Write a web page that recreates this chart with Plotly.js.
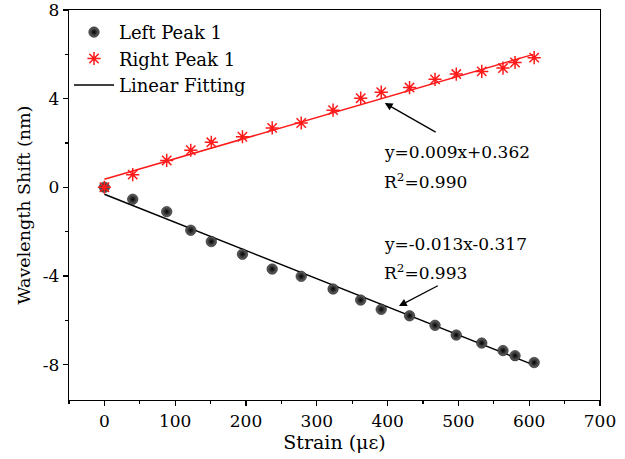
<!DOCTYPE html>
<html>
<head>
<meta charset="utf-8">
<script src="https://cdn.plot.ly/plotly-3.0.1.min.js"></script>
<style>html,body{margin:0;padding:0;background:#fff;}#chart{width:625px;height:459px;}</style>
</head>
<body>
<div id="chart"></div>
<script>
// Strain values (με)
const strain = [0, 40, 88, 122, 151, 195, 237, 278, 323, 362, 391, 431, 467, 497, 533, 563, 580, 607];
// Wavelength shift (nm)
const leftPeak = [0, -0.54, -1.10, -1.94, -2.45, -3.02, -3.69, -4.02, -4.59, -5.09, -5.51, -5.80, -6.23, -6.67, -7.03, -7.37, -7.60, -7.91];
const rightPeak = [0, 0.57, 1.21, 1.67, 2.03, 2.28, 2.68, 2.90, 3.48, 4.02, 4.29, 4.50, 4.87, 5.11, 5.23, 5.38, 5.63, 5.85];
// Linear fit coefficients (slope, intercept) and fit range
const leftFit = [-0.0127, -0.317];
const rightFit = [0.0093, 0.362];
const fitRange = [0, 606];
// Equation labels
const leftEq = ['y=-0.013x-0.317', 'R<sup>2</sup>=0.993'];
const rightEq = ['y=0.009x+0.362', 'R<sup>2</sup>=0.990'];
// Tick labels
const yTickVals = [-8, -4, 0, 4, 8];
const yTickText = ['-8', '-4', '0', '4', '8'];
const yMinorVals = [-6, -2, 2, 6];

const FONT = 'DejaVu Serif, serif';
const fitY = (c) => fitRange.map(x => c[0] * x + c[1]);

const traces = [
  { x: fitRange, y: fitY(leftFit), mode: 'lines', name: 'Linear Fitting', line: {color: '#000', width: 1.5}, showlegend: true, legendrank: 3 },
  { x: fitRange, y: fitY(rightFit), mode: 'lines', name: 'fit2', line: {color: '#ff1a1a', width: 1.5}, showlegend: false },
  { x: strain, y: leftPeak, mode: 'markers', name: 'Left Peak 1', legendrank: 1,
    marker: {symbol: 'circle', size: 10.5, color: '#6a6a6a', gradient: {type: 'radial', color: '#000'}, line: {width: 0.5, color: '#000'}} },
  { x: strain, y: rightPeak, mode: 'markers', name: 'Right Peak 1', legendrank: 2,
    marker: {symbol: 'asterisk-open', size: 11, color: '#ff1a1a', line: {color: '#ff1a1a', width: 1.5}} }
];

const annFont = {family: FONT, size: 17, color: '#000'};
const layout = {
  width: 625, height: 459,
  margin: {l: 69, r: 25, t: 10, b: 59},
  paper_bgcolor: '#fff', plot_bgcolor: '#fff',
  font: {family: FONT, size: 16, color: '#000'},
  showlegend: true,
  legend: {x: 0, y: 0.99, xanchor: 'left', yanchor: 'top', bgcolor: 'rgba(0,0,0,0)', font: {family: FONT, size: 18}, tracegroupgap: 0, itemwidth: 40},
  xaxis: {
    range: [-50, 700], tickmode: 'linear', tick0: 0, dtick: 100,
    ticks: 'outside', ticklen: 5, tickwidth: 1.2, tickcolor: '#000',
    minor: {dtick: 50, ticks: 'outside', ticklen: 3, tickwidth: 1.2, tickcolor: '#000', showgrid: false},
    showline: true, linecolor: '#000', linewidth: 1.3, mirror: true,
    showgrid: false, zeroline: false, ticklabeloverflow: 'allow',
    tickfont: {family: FONT, size: 17},
    title: {text: 'Strain (με)', font: {family: FONT, size: 19}, standoff: 4}
  },
  yaxis: {
    range: [-9.6, 8], tickmode: 'array', tickvals: yTickVals, ticktext: yTickText,
    ticks: 'outside', ticklen: 5, tickwidth: 1.2, tickcolor: '#000',
    minor: {tickvals: yMinorVals, ticks: 'outside', ticklen: 3, tickwidth: 1.2, tickcolor: '#000', showgrid: false},
    showline: true, linecolor: '#000', linewidth: 1.3, mirror: true,
    showgrid: false, zeroline: false, ticklabeloverflow: 'allow',
    tickfont: {family: FONT, size: 17},
    title: {text: 'Wavelength Shift (nm)', font: {family: FONT, size: 17.5}, standoff: 7}
  },
  annotations: [
    {x: 392, y: 1.61, xref: 'x', yref: 'y', text: rightEq[0], showarrow: false, xanchor: 'left', yanchor: 'middle', font: annFont},
    {x: 392, y: 0.30, xref: 'x', yref: 'y', text: rightEq[1], showarrow: false, xanchor: 'left', yanchor: 'middle', font: annFont},
    {x: 392, y: -2.56, xref: 'x', yref: 'y', text: leftEq[0], showarrow: false, xanchor: 'left', yanchor: 'middle', font: annFont},
    {x: 392, y: -3.81, xref: 'x', yref: 'y', text: leftEq[1], showarrow: false, xanchor: 'left', yanchor: 'middle', font: annFont},
    {x: 396, y: 3.80, ax: 470, ay: 2.45, xref: 'x', yref: 'y', axref: 'x', ayref: 'y', text: '', showarrow: true, arrowhead: 2, arrowsize: 1.2, arrowwidth: 1.3, arrowcolor: '#000'},
    {x: 416, y: -5.36, ax: 473, ay: -4.41, xref: 'x', yref: 'y', axref: 'x', ayref: 'y', text: '', showarrow: true, arrowhead: 2, arrowsize: 1.2, arrowwidth: 1.3, arrowcolor: '#000'}
  ]
};

Plotly.newPlot('chart', traces, layout, {displayModeBar: false, staticPlot: true});
</script>
</body>
</html>
